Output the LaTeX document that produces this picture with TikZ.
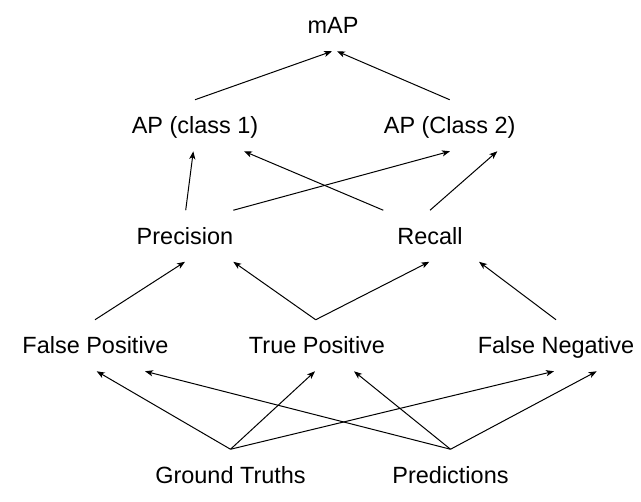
\documentclass[tikz,border=0pt]{standalone}
\usepackage{fontspec}
\setmainfont{Liberation Sans}
\usetikzlibrary{arrows.meta,calc}
\begin{document}
\begin{tikzpicture}[x=0.75pt,y=-0.75pt,
  lbl/.style={font=\fontsize{17.6}{20}\selectfont, inner sep=0pt, text height=12.6pt, text depth=0pt, minimum height=38.25pt},
  arr/.style={draw=black, line width=0.75pt, -{Stealth[length=6pt,width=4.6pt,inset=1.6pt]}}]
\fill[white] (0,0) rectangle (641,501);
\useasboundingbox (0,0) rectangle (641,501);
% nodes
\node[lbl] (map)  at (333,25.5)  {mAP};
\node[lbl] (ap1)  at (195,125.5) {AP (class 1)};
\node[lbl] (ap2)  at (449.7,125.5) {AP (Class 2)};
\node[lbl] (prec) at (185,236)   {Precision};
\node[lbl] (rec)  at (430,236)   {Recall};
\node[lbl] (fp)   at (95.5,345.5) {False Positive};
\node[lbl] (tp)   at (317,345.5) {True Positive};
\node[lbl] (fn)   at (556,345.5) {False Negative};
\node[lbl] (gt)   at (230.5,475) {Ground Truths};
\node[lbl] (pred) at (450.5,475) {Predictions};
% connectors
\draw[arr] (ap1.north) -- ($(map.south)+(-1,0)$);
\draw[arr] (ap2.north) -- ($(map.south)+(4,0)$);
\draw[arr] ($(prec.north)+(0.7,0)$) -- ($(ap1.south)+(-1.7,0)$);
\draw[arr] ($(prec.north)+(48.3,0)$) -- ($(ap2.south)+(0.3,0)$);
\draw[arr] ($(rec.north)+(-46.7,0)$) -- ($(ap1.south)+(49,0)$);
\draw[arr] (rec.north) -- ($(ap2.south)+(47.6,0)$);
\draw[arr] ($(fp.north)+(-0.5,0)$) -- (prec.south);
\draw[arr] ($(tp.north)+(-1.3,0)$) -- ($(prec.south)+(48.3,0)$);
\draw[arr] ($(tp.north)+(-1.3,0)$) -- ($(rec.south)+(-0.7,0)$);
\draw[arr] (fn.north) -- ($(rec.south)+(49,0)$);
\draw[arr] (gt.north) -- ($(fp.south)+(1.2,0)$);
\draw[arr] (gt.north) -- ($(tp.south)+(-2,0)$);
\draw[arr] (gt.north) -- ($(fn.south)+(-2,0)$);
\draw[arr] (pred.north) -- ($(fp.south)+(49.5,0)$);
\draw[arr] (pred.north) -- ($(tp.south)+(37,0)$);
\draw[arr] (pred.north) -- ($(fn.south)+(40.7,0)$);
\end{tikzpicture}
\end{document}
